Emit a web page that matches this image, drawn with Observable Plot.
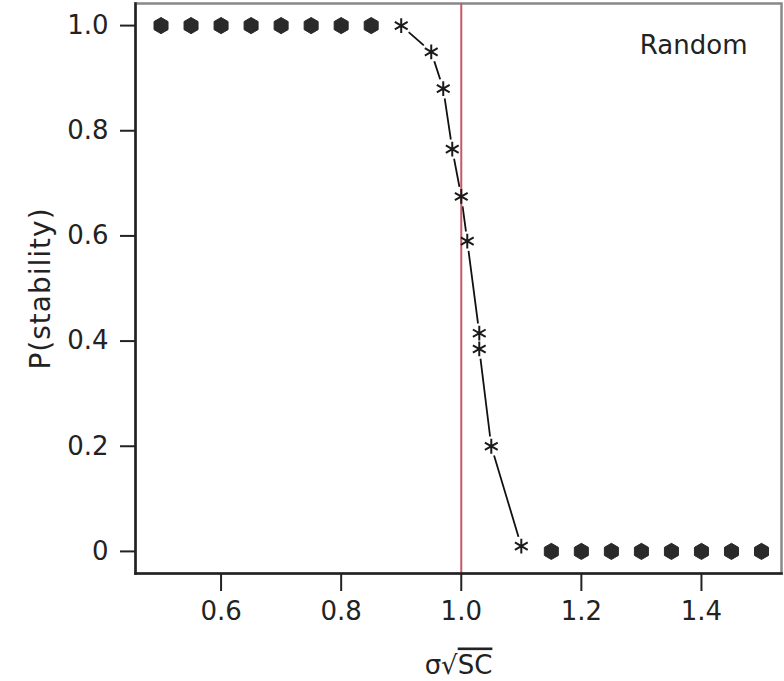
<!DOCTYPE html>
<html>
<head>
<meta charset="utf-8">
<script src="https://cdn.jsdelivr.net/npm/d3@7"></script>
<script src="https://cdn.jsdelivr.net/npm/@observablehq/plot@0.6"></script>
<style>
  html, body { margin: 0; padding: 0; background: #fff; }
</style>
</head>
<body>
<div id="chart"></div>
<script>
// ---- data ----
const sigmaSqrtSC = [0.5, 0.55, 0.6, 0.65, 0.7, 0.75, 0.8, 0.85, 0.9, 0.95, 0.97, 0.985, 1.0, 1.01, 1.03, 1.03, 1.05, 1.1, 1.15, 1.2, 1.25, 1.3, 1.35, 1.4, 1.45, 1.5];
const pStability  = [1, 1, 1, 1, 1, 1, 1, 1, 1, 0.95, 0.88, 0.765, 0.675, 0.59, 0.415, 0.385, 0.2, 0.01, 0, 0, 0, 0, 0, 0, 0, 0];
const xTicks = [0.6, 0.8, 1.0, 1.2, 1.4];
const xTickLabels = ["0.6", "0.8", "1.0", "1.2", "1.4"];
const yTicks = [0, 0.2, 0.4, 0.6, 0.8, 1.0];
const yTickLabels = ["0", "0.2", "0.4", "0.6", "0.8", "1.0"];
const threshold = [1.0];
const panelLabel = ["Random"];
const xLabel = "σ√SC";
const yLabel = "P(stability)";

const data = sigmaSqrtSC.map((x, i) => ({x, p: pStability[i]}));
const plateau = data.filter(d => (d.p === 1 && d.x < 0.9) || d.p === 0);
const transition = data.filter(d => !plateau.includes(d));

const ink = "#222";
const plot = Plot.plot({
  width: 784,
  height: 681,
  marginLeft: 135,
  marginRight: 3,
  marginTop: 3,
  marginBottom: 108,
  style: {fontFamily: "DejaVu Sans, sans-serif", fontSize: "26px", color: ink, background: "#fff", overflow: "visible"},
  x: {domain: [0.4575, 1.5333]},
  y: {domain: [-0.042, 1.042]},
  marks: [
    Plot.frame({stroke: "#888", strokeWidth: 2.5}),
    Plot.line(transition, {x: "x", y: "p", stroke: "#111", strokeWidth: 1.8}),
    Plot.dot(transition, {x: "x", y: "p", r: 10, fill: "#fff", stroke: null}),
    Plot.ruleX(threshold, {stroke: "#c25a68", strokeWidth: 2}),
    Plot.dot(plateau, {x: "x", y: "p", symbol: "hexagon", r: 7, fill: "#2a2a2a", stroke: "#2a2a2a", strokeWidth: 1}),
    Plot.dot(transition, {x: "x", y: "p", symbol: "asterisk", r: 7, stroke: "#1a1a1a", strokeWidth: 2}),
    Plot.frame({anchor: "left", stroke: ink, strokeWidth: 2.5}),
    Plot.frame({anchor: "bottom", stroke: ink, strokeWidth: 2.5}),
    Plot.axisX(xTicks, {
      tickSize: 18, tickPadding: 10, strokeWidth: 2,
      tickFormat: d => xTickLabels[xTicks.indexOf(d)],
      label: xLabel, labelAnchor: "center", labelOffset: 100, labelArrow: "none"
    }),
    Plot.axisY(yTicks, {
      tickSize: 15, tickPadding: 12, strokeWidth: 2,
      tickFormat: d => yTickLabels[yTicks.indexOf(d)],
      label: yLabel, labelAnchor: "center", labelOffset: 105, labelArrow: "none"
    }),
    Plot.text(panelLabel, {frameAnchor: "top-right", dx: -34, dy: 32, fontSize: 26, fill: ink, textAnchor: "end"})
  ]
});
document.getElementById("chart").appendChild(plot);

// make sure the y label carries no arrow; slightly larger as in the reference
const yl = plot.querySelector('[aria-label="y-axis label"] text');
if (yl) { yl.textContent = yLabel; yl.setAttribute("font-size", "28"); yl.style.letterSpacing = "1px"; }

// overline over "SC" in the x label
const xl = plot.querySelector('[aria-label="x-axis label"] text');
if (xl) {
  xl.textContent = "";
  const t1 = document.createElementNS("http://www.w3.org/2000/svg", "tspan");
  t1.textContent = "σ√";
  const t2 = document.createElementNS("http://www.w3.org/2000/svg", "tspan");
  t2.textContent = "SC";
  t2.setAttribute("text-decoration", "overline");
  t2.style.textDecoration = "overline";
  xl.appendChild(t1);
  xl.appendChild(t2);
}
</script>
</body>
</html>
